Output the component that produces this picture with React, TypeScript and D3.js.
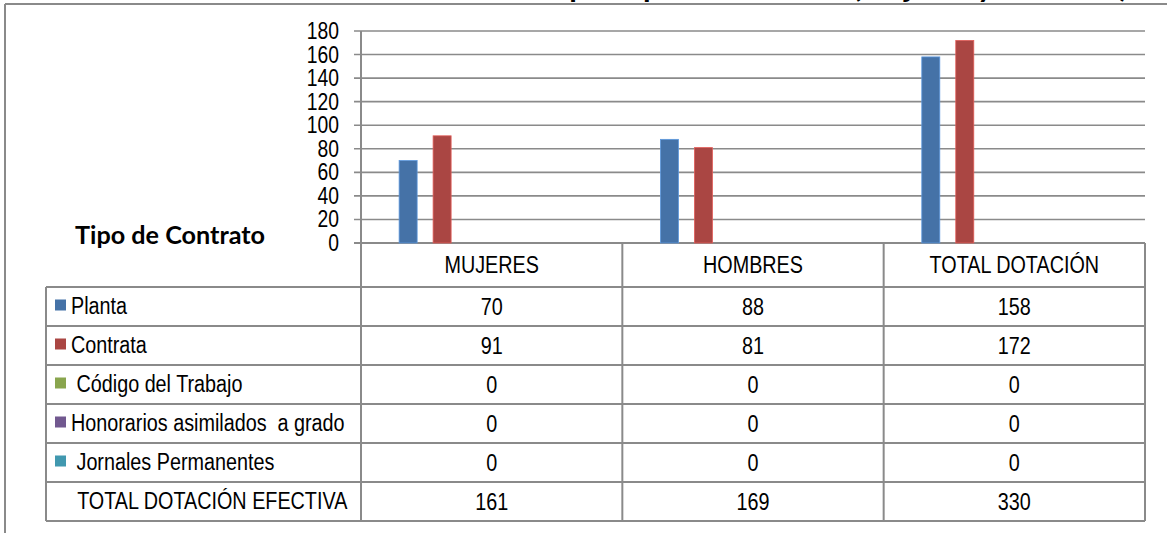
import React from 'react';
import * as d3 from 'd3';

const categories = ['MUJERES', 'HOMBRES', 'TOTAL DOTACIÓN'];
const seriesNames = ['Planta', 'Contrata', 'Código del Trabajo', 'Honorarios asimilados  a grado', 'Jornales Permanentes'];
const seriesLabels = ['Planta', 'Contrata', ' Código del Trabajo', 'Honorarios asimilados  a grado', ' Jornales Permanentes'];
const seriesColors = ['#4572A7', '#AA4643', '#89A54E', '#71588F', '#4198AF'];
const planta = [70, 88, 158];
const contrata = [91, 81, 172];
const codigo = [0, 0, 0];
const honorarios = [0, 0, 0];
const jornales = [0, 0, 0];
const totalLabel = ' TOTAL DOTACIÓN EFECTIVA';
const totals = [161, 169, 330];
const yTicks = [0, 20, 40, 60, 80, 100, 120, 140, 160, 180];
const titleText = 'Dotación Efectiva año 2012 por tipo de contrato (mujeres y hombres)';

const seriesValues = [planta, contrata, codigo, honorarios, jornales];

const W = 1167;
const H = 533;
const grid = '#8a8a8a';

function NText(props: {
  x: number;
  y: number;
  anchor?: 'start' | 'middle' | 'end';
  size?: number;
  sx?: number;
  children: React.ReactNode;
}) {
  const { x, y, anchor = 'start', size = 23, sx = 0.86, children } = props;
  return (
    <text
      transform={`translate(${x},${y}) scale(${sx},1)`}
      dy="0.35em"
      textAnchor={anchor}
      fontFamily="'Liberation Sans', Arial, sans-serif"
      fontSize={size}
      fill="#000"
      style={{ whiteSpace: 'pre' }}
    >
      {children}
    </text>
  );
}

export default function App() {
  const x = d3.scaleBand<string>().domain(categories).range([361, 1145]).padding(0);
  const inner = d3
    .scaleBand<string>()
    .domain(seriesNames)
    .range([0, x.bandwidth()])
    .paddingInner(0.47)
    .paddingOuter(1.58)
    .align(0.355);
  const y = d3.scaleLinear().domain([0, 180]).range([243, 31]);
  const rowNames = [...seriesNames, 'TOTAL'];
  const rows = d3.scaleBand<string>().domain(rowNames).range([287, 521]);
  const headerTop = y(0);
  const tableLeft = 46;
  const xl = x.range()[0];
  const xr = x.range()[1];

  return (
    <svg
      width={W}
      height={H}
      style={{ position: 'absolute', left: 0, top: 0, display: 'block', background: '#fff' }}
    >
      <rect x={0} y={0} width={W} height={H} fill="#fff" />
      {/* clipped title (only descenders visible, as in the reference) */}
      <text
        x={1128}
        y={-3}
        textAnchor="end"
        fontFamily="Lato, 'Open Sans', sans-serif"
        fontWeight="bold"
        fontSize={31}
        fill="#000"
      >
        {titleText}
      </text>
      {/* outer frame */}
      <line x1={5} x2={W} y1={4} y2={4} stroke={grid} strokeWidth={2} />
      <line x1={5} x2={5} y1={4} y2={H} stroke={grid} strokeWidth={2} />

      {/* gridlines + y labels */}
      {yTicks.map((t) => (
        <g key={t}>
          <line x1={354} x2={xr} y1={y(t)} y2={y(t)} stroke={grid} strokeWidth={t === 0 ? 2 : 1.6} />
          <NText x={339} y={y(t)} anchor="end" size={23} sx={0.84}>
            {t}
          </NText>
        </g>
      ))}
      {/* y axis */}
      <line x1={xl} x2={xl} y1={y(180)} y2={521} stroke={grid} strokeWidth={2} />

      {/* bars */}
      {categories.map((c, ci) => (
        <g key={c}>
          {seriesNames.map((s, si) => {
            const v = seriesValues[si][ci];
            if (v === 0) return null;
            const bx = (x(c) as number) + (inner(s) as number);
            return (
              <rect
                key={s}
                x={bx}
                y={y(v)}
                width={inner.bandwidth()}
                height={y(0) - y(v)}
                fill={seriesColors[si]}
                stroke={d3.color(seriesColors[si])!.brighter(0.8).formatHex()}
                strokeWidth={0.8}
              />
            );
          })}
        </g>
      ))}

      {/* Tipo de Contrato label */}
      <text
        x={75}
        y={244}
        fontFamily="Lato, 'Open Sans', sans-serif"
        fontWeight="bold"
        fontSize={24}
        textLength={190}
        lengthAdjust="spacingAndGlyphs"
        fill="#000"
      >
        Tipo de Contrato
      </text>

      {/* table grid */}
      {[...categories.map((c) => x(c) as number), xr].map((vx, i) => (
        <line key={'v' + i} x1={vx} x2={vx} y1={headerTop} y2={521} stroke={grid} strokeWidth={2} />
      ))}
      <line x1={tableLeft} x2={tableLeft} y1={287} y2={521} stroke={grid} strokeWidth={2} />
      {[...rowNames.map((r) => rows(r) as number), 521].map((hy, i) => (
        <line key={'h' + i} x1={tableLeft} x2={xr} y1={hy} y2={hy} stroke={grid} strokeWidth={2} />
      ))}
      {categories.map((c) => (
        <NText key={'hd' + c} x={(x(c) as number) + x.bandwidth() / 2} y={(headerTop + 287) / 2} anchor="middle">
          {c}
        </NText>
      ))}
      {seriesNames.map((s, si) => {
        const ry = (rows(s) as number) + rows.bandwidth() / 2;
        return (
          <g key={'row' + s}>
            <rect x={55} y={ry - 7} width={11} height={11} fill={seriesColors[si]} />
            <NText x={71} y={ry - 1}>
              {seriesLabels[si]}
            </NText>
            {categories.map((c, ci) => (
              <NText key={c} x={(x(c) as number) + x.bandwidth() / 2} y={ry} anchor="middle">
                {seriesValues[si][ci]}
              </NText>
            ))}
          </g>
        );
      })}
      {(() => {
        const ry = (rows('TOTAL') as number) + rows.bandwidth() / 2;
        return (
          <g>
            <NText x={72} y={ry - 1}>
              {totalLabel}
            </NText>
            {categories.map((c, ci) => (
              <NText key={c} x={(x(c) as number) + x.bandwidth() / 2} y={ry} anchor="middle">
                {totals[ci]}
              </NText>
            ))}
          </g>
        );
      })()}
    </svg>
  );
}
